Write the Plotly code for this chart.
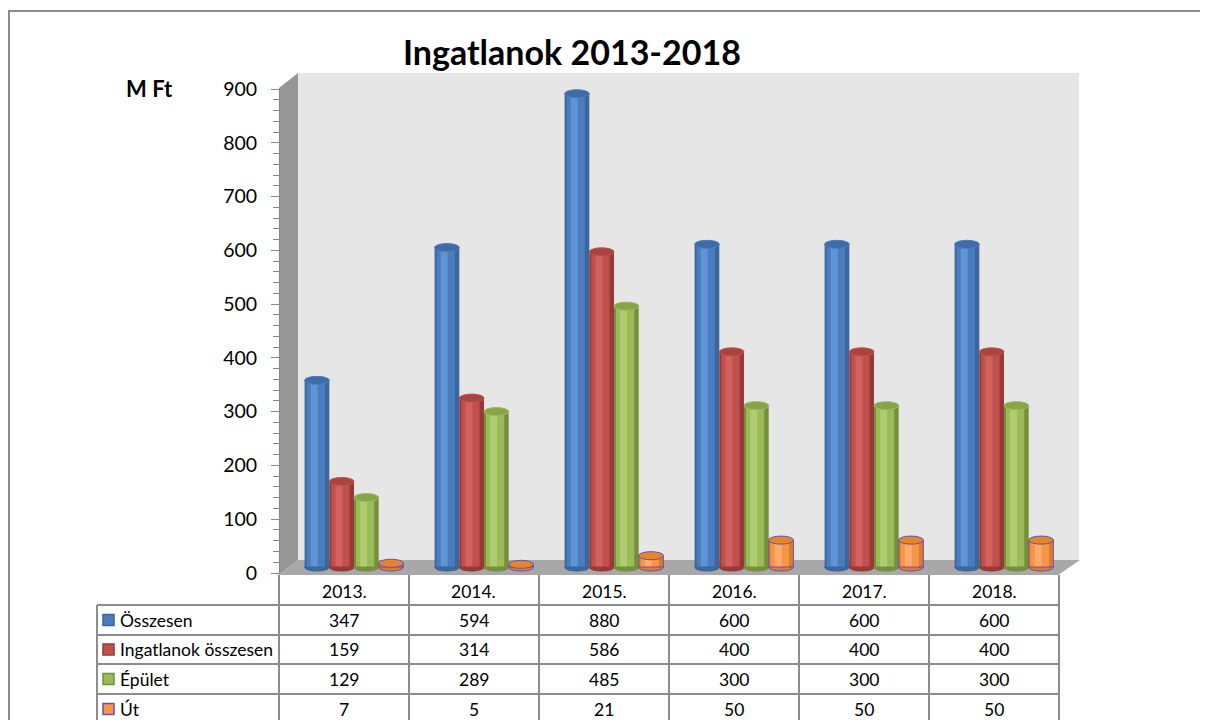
import plotly.graph_objects as go

# ---------------- data ----------------
years = ["2013.", "2014.", "2015.", "2016.", "2017.", "2018."]
series_names = ["Összesen", "Ingatlanok összesen", "Épület", "Út"]
osszesen = [347, 594, 880, 600, 600, 600]
ingatlanok_osszesen = [159, 314, 586, 400, 400, 400]
epulet = [129, 289, 485, 300, 300, 300]
ut = [7, 5, 21, 50, 50, 50]
y_ticks = [0, 100, 200, 300, 400, 500, 600, 700, 800, 900]
title_text = "Ingatlanok 2013-2018"
unit_label = "M Ft"

series_values = [osszesen, ingatlanok_osszesen, epulet, ut]

# ---------------- styles ----------------
W, H = 1200, 712
OFF = 8  # page body margin
FONT = "Lato"
# edge, main, highlight, top, outline
palettes = [
    ("#3a679f", "#4a7dbd", "#5f94d6", "#3f6ca6", "#3a679f"),
    ("#973a37", "#c0504d", "#d3625e", "#a9443f", "#973a37"),
    ("#74903b", "#9bbb59", "#afcd70", "#86a54a", "#74903b"),
    ("#dc7b2b", "#f79646", "#fbab6a", "#e5852f", "#6a55a4"),
]


def px(x):
    return (x - OFF) / W


def py(y):
    return 1 - (y - OFF) / H


fig = go.Figure()

n = len(years)
bw = 0.19          # bar width in category units
ell = 7.5          # half height of cylinder end ellipses, data units
y_top = 900
front_bottom, front_top = 573, 89          # front plane pixel rows of 0 and 900
depth_shift = 6                              # bars stand 6 px deeper (higher) than front plane
units_per_px = y_top / (front_bottom - front_top)
y2_lo = -depth_shift * units_per_px

shapes = []

# background: outer frame, back wall, side wall, floor
shapes.append(dict(type="rect", xref="paper", yref="paper", x0=px(9), x1=px(1240),
                   y0=py(760), y1=py(11), line=dict(color="#8c8c8c", width=2),
                   fillcolor="white", layer="below"))
shapes.append(dict(type="rect", xref="paper", yref="paper", x0=px(298), x1=px(1079),
                   y0=py(560), y1=py(73), line=dict(width=0), fillcolor="#e6e6e6",
                   layer="below"))
shapes.append(dict(type="path", xref="paper", yref="paper",
                   path=f"M {px(279)},{py(88)} L {px(298)},{py(73)} L {px(298)},{py(560)} L {px(279)},{py(575)} Z",
                   line=dict(width=0), fillcolor="#969696", layer="below"))
shapes.append(dict(type="path", xref="paper", yref="paper",
                   path=f"M {px(279)},{py(575)} L {px(298)},{py(560)} L {px(1080)},{py(560)} L {px(1058)},{py(575)} Z",
                   line=dict(width=0), fillcolor="#a8a8a8", layer="below"))

# invisible trace so the tick axis is always drawn
fig.add_trace(go.Scatter(x=[None], y=[None], xaxis="x", yaxis="y", showlegend=False,
                         hoverinfo="skip", mode="markers"))

# cylinders
for k, (name, vals) in enumerate(zip(series_names, series_values)):
    edge, main, hl, top, outline = palettes[k]
    base_off = (k - 2) * bw
    xs = list(range(n))
    is_orange = k == 3
    fig.add_trace(go.Bar(x=xs, y=vals, offset=base_off, width=bw, xaxis="x", yaxis="y2",
                         marker=dict(color=edge, line=dict(color=outline, width=1 if is_orange else 0)),
                         name=name, showlegend=False, hoverinfo="skip"))
    fig.add_trace(go.Bar(x=xs, y=vals, offset=base_off + 0.08 * bw, width=0.74 * bw,
                         xaxis="x", yaxis="y2", marker=dict(color=main, line=dict(width=0)),
                         showlegend=False, hoverinfo="skip"))
    fig.add_trace(go.Bar(x=xs, y=vals, offset=base_off + 0.25 * bw, width=0.28 * bw,
                         xaxis="x", yaxis="y2", marker=dict(color=hl, line=dict(width=0)),
                         showlegend=False, hoverinfo="skip"))
    for i, v in enumerate(vals):
        x0 = i + base_off
        x1 = x0 + bw
        # rounded bottom end (lower half ellipse)
        shapes.append(dict(type="path", xref="x", yref="y2",
                           path=f"M {x0},0 C {x0},{-1.333 * ell} {x1},{-1.333 * ell} {x1},0 Z",
                           fillcolor=edge,
                           line=dict(color=outline if is_orange else edge, width=1),
                           layer="above"))
        # top end
        shapes.append(dict(type="circle", xref="x", yref="y2", x0=x0, x1=x1,
                           y0=v - ell, y1=v + ell, fillcolor=top,
                           line=dict(color=outline if is_orange else main, width=1),
                           layer="above"))

# data table
col_left = 279
col_w = 130
table_right = col_left + col_w * n
legend_left = 97
row_edges = [575, 605, 635, 664, 694, 724]
line_col = "#8c8c8c"
for j in range(n + 1):
    xx = col_left + col_w * j
    shapes.append(dict(type="line", xref="paper", yref="paper", x0=px(xx), x1=px(xx),
                       y0=py(575), y1=py(740), line=dict(color=line_col, width=2)))
shapes.append(dict(type="line", xref="paper", yref="paper", x0=px(legend_left), x1=px(legend_left),
                   y0=py(605), y1=py(740), line=dict(color=line_col, width=2)))
for r in row_edges[1:]:
    shapes.append(dict(type="line", xref="paper", yref="paper", x0=px(legend_left), x1=px(table_right),
                       y0=py(r), y1=py(r), line=dict(color=line_col, width=2)))

TSIZE = 17.5
annotations = []
for j, yr in enumerate(years):
    cx = col_left + col_w * (j + 0.5)
    annotations.append(dict(x=px(cx), y=py((row_edges[0] + row_edges[1]) / 2 + 1), xref="paper", yref="paper",
                            text=yr, showarrow=False, xanchor="center", yanchor="middle",
                            font=dict(family=FONT, size=TSIZE, color="#000000")))
for k, (name, vals) in enumerate(zip(series_names, series_values)):
    cy = (row_edges[k + 1] + row_edges[k + 2]) / 2
    edge, main, hl, top, outline = palettes[k]
    shapes.append(dict(type="rect", xref="paper", yref="paper", x0=px(103), x1=px(114),
                       y0=py(cy + 5.5), y1=py(cy - 5.5), fillcolor=main,
                       line=dict(color=outline if k == 3 else edge, width=1.5)))
    annotations.append(dict(x=px(118), y=py(cy), xref="paper", yref="paper", text=name,
                            showarrow=False, xanchor="left", yanchor="middle",
                            font=dict(family=FONT, size=TSIZE, color="#000000")))
    for j, v in enumerate(vals):
        cx = col_left + col_w * (j + 0.5)
        annotations.append(dict(x=px(cx), y=py(cy), xref="paper", yref="paper", text=str(v),
                                showarrow=False, xanchor="center", yanchor="middle",
                                font=dict(family=FONT, size=TSIZE, color="#000000")))

# title and unit label
annotations.append(dict(x=px(572), y=py(51), xref="paper", yref="paper", text=f"<b>{title_text}</b>",
                        showarrow=False, xanchor="center", yanchor="middle",
                        font=dict(family=FONT, size=34, color="#000000")))
annotations.append(dict(x=px(149), y=py(89), xref="paper", yref="paper", text=f"<b>{unit_label}</b>",
                        showarrow=False, xanchor="center", yanchor="middle",
                        font=dict(family=FONT, size=22, color="#000000")))

fig.update_layout(
    width=W, height=H,
    autosize=False,
    margin=dict(l=0, r=0, t=0, b=0, pad=0, autoexpand=False),
    paper_bgcolor="white",
    plot_bgcolor="rgba(0,0,0,0)",
    barmode="overlay",
    showlegend=False,
    xaxis=dict(domain=[px(289), px(1069)], range=[-0.5, n - 0.5], visible=False, fixedrange=True,
               anchor="y2", automargin=False),
    yaxis=dict(domain=[py(front_bottom), py(front_top)], range=[0, y_top], anchor="free",
               position=px(279), side="left",
               tickvals=y_ticks, ticks="outside", ticklen=8, tickcolor="#868686",
               showline=True, linecolor="#868686", linewidth=1, showgrid=False, zeroline=False,
               tickfont=dict(family=FONT, size=19.5, color="#000000"), ticklabelstandoff=10,
               minor=dict(dtick=20, ticks="outside", ticklen=6, tickcolor="#868686", showgrid=False),
               fixedrange=True, automargin=False),
    yaxis2=dict(range=[y2_lo, y_top + y2_lo], overlaying="y", visible=False,
                anchor="x", fixedrange=True, automargin=False),
    shapes=shapes,
    annotations=annotations,
)

fig.write_html("out.html", config={"responsive": False, "displayModeBar": False})
